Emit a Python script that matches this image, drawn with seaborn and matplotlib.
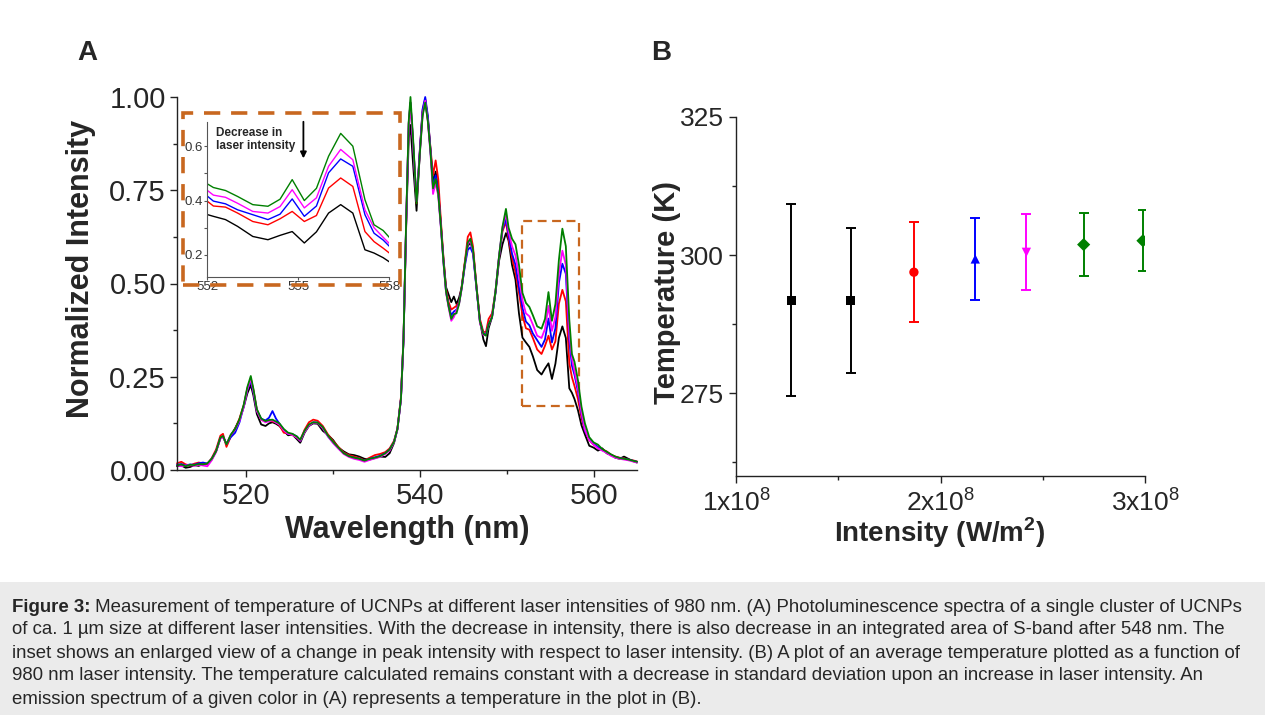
import matplotlib
matplotlib.use('Agg')
import matplotlib.pyplot as plt
from matplotlib.patches import Rectangle
from matplotlib.ticker import MultipleLocator, FixedLocator
import seaborn as sns
import pandas as pd

# ---- panel A: spectra ----
wavelength = [512.0, 512.5, 513.0, 513.5, 514.0, 514.5, 515.0, 515.5, 516.0, 516.5,
              517.0, 517.3, 517.7, 518.2, 518.7, 519.2, 519.7, 520.1, 520.5, 520.8,
              521.2, 521.7, 522.2, 522.6, 523.0, 523.4, 523.8, 524.3, 524.8, 525.3,
              525.8, 526.2, 526.7, 527.2, 527.7, 528.2, 528.8, 529.4, 530.0, 530.6,
              531.2, 531.8, 532.4, 533.0, 533.6, 534.2, 534.8, 535.4, 536.0, 536.5,
              537.0, 537.4, 537.8, 538.1, 538.4, 538.7, 538.9, 539.2, 539.6, 540.0,
              540.3, 540.6, 540.9, 541.2, 541.5, 541.8, 542.1, 542.4, 542.7, 543.0,
              543.3, 543.6, 543.9, 544.2, 544.5, 544.8, 545.2, 545.5, 545.8, 546.1,
              546.5, 546.9, 547.3, 547.6, 547.9, 548.3, 548.7, 549.1, 549.5, 549.9,
              550.2, 550.6, 551.0, 551.4, 551.8, 552.2, 552.6, 553.0, 553.5, 554.0,
              554.4, 554.8, 555.2, 555.6, 556.0, 556.4, 556.8, 557.2, 557.5, 557.8,
              558.2, 558.6, 559.0, 559.5, 560.0, 560.5, 561.0, 561.5, 562.0, 562.5,
              563.0, 563.5, 564.0, 564.5, 565.0]

black = [0.010, 0.012, 0.006, 0.008, 0.013, 0.011, 0.016, 0.017, 0.028, 0.050,
         0.085, 0.090, 0.068, 0.092, 0.112, 0.135, 0.170, 0.205, 0.228, 0.200,
         0.150, 0.122, 0.118, 0.125, 0.128, 0.124, 0.118, 0.105, 0.093, 0.095,
         0.083, 0.073, 0.100, 0.118, 0.125, 0.124, 0.105, 0.094, 0.080, 0.060,
         0.050, 0.042, 0.040, 0.036, 0.030, 0.028, 0.032, 0.036, 0.035, 0.045,
         0.072, 0.110, 0.190, 0.350, 0.650, 0.890, 0.925, 0.820, 0.695, 0.860,
         0.960, 0.990, 0.940, 0.860, 0.770, 0.800, 0.750, 0.660, 0.565, 0.490,
         0.470, 0.450, 0.465, 0.445, 0.462, 0.490, 0.560, 0.600, 0.610, 0.590,
         0.490, 0.400, 0.350, 0.332, 0.380, 0.410, 0.475, 0.560, 0.605, 0.635,
         0.615, 0.550, 0.510, 0.420, 0.355, 0.342, 0.330, 0.305, 0.268, 0.256,
         0.272, 0.286, 0.244, 0.285, 0.354, 0.385, 0.354, 0.219, 0.207, 0.190,
         0.160, 0.120, 0.095, 0.065, 0.060, 0.052, 0.058, 0.045, 0.040, 0.033,
         0.030, 0.036, 0.030, 0.024, 0.020]

red = [0.018, 0.022, 0.015, 0.012, 0.017, 0.020, 0.018, 0.016, 0.032, 0.055,
       0.092, 0.097, 0.062, 0.090, 0.110, 0.138, 0.175, 0.218, 0.245, 0.215,
       0.162, 0.135, 0.130, 0.133, 0.130, 0.128, 0.120, 0.100, 0.098, 0.094,
       0.088, 0.080, 0.108, 0.128, 0.135, 0.132, 0.118, 0.095, 0.077, 0.062,
       0.047, 0.040, 0.036, 0.032, 0.026, 0.033, 0.040, 0.043, 0.048, 0.058,
       0.078, 0.112, 0.195, 0.355, 0.660, 0.930, 0.985, 0.880, 0.715, 0.865,
       0.965, 0.995, 0.945, 0.865, 0.790, 0.830, 0.780, 0.670, 0.570, 0.485,
       0.450, 0.430, 0.435, 0.440, 0.450, 0.492, 0.565, 0.625, 0.637, 0.600,
       0.495, 0.405, 0.370, 0.370, 0.405, 0.420, 0.480, 0.568, 0.640, 0.665,
       0.620, 0.570, 0.530, 0.475, 0.415, 0.380, 0.376, 0.354, 0.323, 0.311,
       0.333, 0.360, 0.323, 0.345, 0.446, 0.483, 0.452, 0.286, 0.249, 0.225,
       0.190, 0.140, 0.105, 0.080, 0.068, 0.060, 0.055, 0.050, 0.041, 0.036,
       0.033, 0.031, 0.028, 0.026, 0.023]

blue = [0.014, 0.016, 0.012, 0.015, 0.014, 0.018, 0.020, 0.017, 0.030, 0.050,
        0.086, 0.090, 0.070, 0.088, 0.100, 0.128, 0.172, 0.215, 0.240, 0.210,
        0.160, 0.137, 0.133, 0.140, 0.158, 0.138, 0.124, 0.108, 0.097, 0.096,
        0.090, 0.079, 0.104, 0.120, 0.128, 0.127, 0.114, 0.090, 0.073, 0.058,
        0.045, 0.037, 0.033, 0.030, 0.025, 0.030, 0.034, 0.038, 0.045, 0.055,
        0.075, 0.110, 0.190, 0.350, 0.660, 0.930, 0.985, 0.880, 0.720, 0.865,
        0.968, 1.000, 0.950, 0.860, 0.760, 0.790, 0.745, 0.655, 0.560, 0.478,
        0.440, 0.415, 0.425, 0.430, 0.448, 0.488, 0.552, 0.590, 0.597, 0.580,
        0.488, 0.398, 0.365, 0.365, 0.390, 0.410, 0.478, 0.570, 0.645, 0.672,
        0.630, 0.580, 0.550, 0.490, 0.435, 0.398, 0.388, 0.366, 0.348, 0.330,
        0.350, 0.406, 0.342, 0.380, 0.502, 0.553, 0.526, 0.348, 0.280, 0.255,
        0.210, 0.150, 0.105, 0.082, 0.070, 0.062, 0.053, 0.048, 0.040, 0.035,
        0.032, 0.030, 0.028, 0.025, 0.022]

magenta = [0.012, 0.010, 0.012, 0.013, 0.011, 0.014, 0.012, 0.010, 0.026, 0.048,
           0.084, 0.088, 0.070, 0.094, 0.108, 0.132, 0.170, 0.215, 0.245, 0.212,
           0.158, 0.135, 0.128, 0.131, 0.133, 0.127, 0.122, 0.106, 0.097, 0.094,
           0.087, 0.078, 0.102, 0.119, 0.127, 0.126, 0.112, 0.090, 0.072, 0.057,
           0.043, 0.035, 0.030, 0.027, 0.022, 0.027, 0.031, 0.035, 0.043, 0.052,
           0.074, 0.108, 0.188, 0.348, 0.655, 0.925, 0.980, 0.875, 0.720, 0.855,
           0.955, 0.990, 0.935, 0.850, 0.740, 0.770, 0.735, 0.650, 0.555, 0.475,
           0.435, 0.400, 0.410, 0.428, 0.445, 0.485, 0.558, 0.605, 0.615, 0.588,
           0.490, 0.395, 0.362, 0.362, 0.388, 0.412, 0.480, 0.572, 0.650, 0.686,
           0.640, 0.600, 0.575, 0.520, 0.455, 0.420, 0.412, 0.390, 0.360, 0.354,
           0.378, 0.440, 0.373, 0.410, 0.526, 0.588, 0.550, 0.366, 0.300, 0.265,
           0.220, 0.155, 0.108, 0.080, 0.068, 0.058, 0.052, 0.046, 0.038, 0.033,
           0.030, 0.028, 0.026, 0.023, 0.020]

green = [0.012, 0.015, 0.010, 0.014, 0.013, 0.016, 0.015, 0.018, 0.030, 0.050,
         0.087, 0.091, 0.069, 0.095, 0.110, 0.136, 0.176, 0.222, 0.252, 0.218,
         0.163, 0.138, 0.131, 0.134, 0.135, 0.130, 0.125, 0.110, 0.100, 0.097,
         0.090, 0.081, 0.105, 0.122, 0.128, 0.127, 0.115, 0.092, 0.075, 0.060,
         0.045, 0.037, 0.033, 0.030, 0.025, 0.030, 0.033, 0.037, 0.045, 0.055,
         0.075, 0.110, 0.190, 0.352, 0.665, 0.935, 1.000, 0.890, 0.715, 0.855,
         0.950, 0.985, 0.935, 0.855, 0.755, 0.780, 0.740, 0.655, 0.558, 0.478,
         0.438, 0.405, 0.418, 0.420, 0.445, 0.488, 0.560, 0.610, 0.620, 0.592,
         0.492, 0.398, 0.365, 0.360, 0.390, 0.410, 0.480, 0.572, 0.652, 0.700,
         0.650, 0.620, 0.605, 0.550, 0.475, 0.448, 0.437, 0.415, 0.385, 0.379,
         0.405, 0.477, 0.400, 0.445, 0.563, 0.647, 0.600, 0.403, 0.311, 0.290,
         0.240, 0.170, 0.125, 0.088, 0.074, 0.068, 0.056, 0.049, 0.042, 0.036,
         0.032, 0.030, 0.028, 0.025, 0.022]

curve_names = ['black', 'red', 'blue', 'magenta', 'green']
curve_colors = {'black': '#000000', 'red': '#ff0000', 'blue': '#0000ff',
                'magenta': '#ff00ff', 'green': '#008000'}

# ---- panel B: temperature vs intensity ----
intensity = [1.27e8, 1.56e8, 1.87e8, 2.17e8, 2.42e8, 2.70e8, 2.99e8]
temperature = [291.8, 291.8, 296.9, 299.3, 300.5, 301.9, 302.6]
temp_err = [17.4, 13.1, 9.1, 7.4, 6.9, 5.7, 5.5]
point_group = ['p1', 'p2', 'p3', 'p4', 'p5', 'p6', 'p7']
point_colors = ['#000000', '#000000', '#ff0000', '#0000ff', '#ff00ff', '#008000', '#008000']
point_markers = ['s', 's', 'o', '^', 'v', 'D', 'D']

caption_lines = [
    ' Measurement of temperature of UCNPs at different laser intensities of 980 nm. (A) Photoluminescence spectra of a single cluster of UCNPs',
    'of ca. 1 \u00b5m size at different laser intensities. With the decrease in intensity, there is also decrease in an integrated area of S-band after 548 nm. The',
    'inset shows an enlarged view of a change in peak intensity with respect to laser intensity. (B) A plot of an average temperature plotted as a function of',
    '980 nm laser intensity. The temperature calculated remains constant with a decrease in standard deviation upon an increase in laser intensity. An',
    'emission spectrum of a given color in (A) represents a temperature in the plot in (B).',
]

sns.set_style('ticks')
plt.rcParams['font.family'] = ['Liberation Sans', 'DejaVu Sans']
plt.rcParams['mathtext.fontset'] = 'custom'
plt.rcParams['mathtext.rm'] = 'Liberation Sans'
plt.rcParams['mathtext.bf'] = 'Liberation Sans:bold'

spec = pd.concat([pd.DataFrame({'wl': wavelength, 'I': vals, 'curve': name})
                  for name, vals in zip(curve_names, [black, red, blue, magenta, green])])

fig = plt.figure(figsize=(12.65, 7.15), dpi=100)
W, H = 1265, 715


def fx(px):
    return px / W


def fy(py):
    return 1 - py / H


def style_axis(ax, size):
    sns.despine(ax=ax)
    for s in ['left', 'bottom']:
        ax.spines[s].set_linewidth(1.0)
        ax.spines[s].set_color('#222222')
    ax.tick_params(which='major', length=5, width=1.0, labelsize=size, color='#222222')
    ax.tick_params(which='minor', length=3, width=1.0, color='#222222')


# ---- panel A ----
axA = fig.add_axes([fx(177), fy(470), fx(637) - fx(177), fy(97) - fy(470)])
sns.lineplot(data=spec, x='wl', y='I', hue='curve', hue_order=curve_names,
             palette=curve_colors, estimator=None, sort=False, legend=False,
             linewidth=1.3, ax=axA)
axA.set_xlim(512, 565)
axA.set_ylim(0, 1.0)
axA.xaxis.set_major_locator(MultipleLocator(20))
axA.xaxis.set_minor_locator(MultipleLocator(10))
axA.yaxis.set_major_locator(MultipleLocator(0.25))
axA.yaxis.set_minor_locator(MultipleLocator(0.125))
axA.yaxis.set_major_formatter(plt.FuncFormatter(lambda v, p: f'{v:.2f}'))
style_axis(axA, 21)
axA.tick_params(axis='y', pad=3)
axA.set_xlabel('Wavelength (nm)', fontsize=22, fontweight='bold')
axA.set_ylabel('Normalized Intensity', fontsize=22, fontweight='bold')
axA.xaxis.label.set_va('center')
axA.xaxis.set_label_coords(0.5, (470 - 530) / 373)
axA.yaxis.label.set_va('center')
axA.yaxis.set_label_coords((81 - 177) / 460, (470 - 269) / 373)
for ln in axA.lines:
    ln.set_clip_on(False)

axA.add_patch(Rectangle((551.8, 0.172), 6.5, 0.495, fill=False, edgecolor='#c8671f',
                        linewidth=1.6, linestyle=(0, (4, 2.5))))

# inset
axI = fig.add_axes([fx(207.3), fy(276.7), fx(389.2) - fx(207.3), fy(121.7) - fy(276.7)])
sns.lineplot(data=spec[(spec.wl >= 551.4) & (spec.wl <= 558.6)], x='wl', y='I',
             hue='curve', hue_order=curve_names, palette=curve_colors,
             estimator=None, sort=False, legend=False, linewidth=1.0, ax=axI)
axI.set_xlim(552, 558)
axI.set_ylim(0.12, 0.69)
axI.xaxis.set_major_locator(FixedLocator([552, 555, 558]))
axI.yaxis.set_major_locator(FixedLocator([0.2, 0.4, 0.6]))
axI.yaxis.set_minor_locator(FixedLocator([0.3, 0.5]))
sns.despine(ax=axI)
for s in ['left', 'bottom']:
    axI.spines[s].set_linewidth(0.8)
    axI.spines[s].set_color('#555555')
axI.tick_params(which='both', length=2, width=0.8, pad=1, labelsize=9.5,
                labelcolor='#333333', color='#555555')
axI.set_xlabel('')
axI.set_ylabel('')
axI.set_facecolor('none')
axI.text(552.3, 0.672, 'Decrease in\nlaser intensity', fontsize=8.5, fontweight='bold',
         va='top', ha='left', linespacing=1.15)
axI.annotate('', xy=(555.17, 0.545), xytext=(555.17, 0.70),
             arrowprops=dict(arrowstyle='-|>', color='black', lw=1.3, mutation_scale=9),
             annotation_clip=False)

fig.patches.append(Rectangle((fx(183), fy(285)), fx(400) - fx(183), fy(112.7) - fy(285),
                             transform=fig.transFigure, fill=False, edgecolor='#c8671f',
                             linewidth=2.6, linestyle=(0, (4.5, 3))))

# ---- panel B ----
axB = fig.add_axes([fx(736), fy(476), fx(1145) - fx(736), fy(117) - fy(476)])
ptdf = pd.DataFrame({'x': intensity, 'y': temperature, 'g': point_group})
for x, y, e, c in zip(intensity, temperature, temp_err, point_colors):
    axB.errorbar(x, y, yerr=e, fmt='none', ecolor=c, elinewidth=1.4,
                 capsize=3.5, capthick=1.4)
sns.scatterplot(data=ptdf, x='x', y='y', hue='g', style='g',
                palette=dict(zip(point_group, point_colors)),
                markers=dict(zip(point_group, point_markers)),
                s=45, linewidth=0, legend=False, ax=axB, zorder=3)
axB.set_xlim(1e8, 3e8)
axB.set_ylim(260, 325)
axB.xaxis.set_major_locator(FixedLocator([1e8, 2e8, 3e8]))
axB.xaxis.set_minor_locator(FixedLocator([1.5e8, 2.5e8]))
axB.set_xticklabels([r'1x10$^{8}$', r'2x10$^{8}$', r'3x10$^{8}$'])
axB.yaxis.set_major_locator(FixedLocator([275, 300, 325]))
axB.yaxis.set_minor_locator(FixedLocator([262.5, 287.5, 312.5]))
style_axis(axB, 19)
axB.set_xlabel(r'Intensity (W/m$^{\mathbf{2}}$)', fontsize=20, fontweight='bold')
axB.set_ylabel('Temperature (K)', fontsize=21, fontweight='bold')
axB.xaxis.label.set_va('center')
axB.xaxis.set_label_coords((940 - 736) / 409, (476 - 533) / 359)
axB.yaxis.label.set_va('center')
axB.yaxis.set_label_coords((667 - 736) / 409, (476 - 292) / 359)

fig.text(fx(87), fy(53), 'A', fontsize=20, fontweight='bold', ha='center', va='center')
fig.text(fx(661), fy(53), 'B', fontsize=20, fontweight='bold', ha='center', va='center')

# ---- caption ----
fig.patches.append(Rectangle((0, 0), 1, fy(582), transform=fig.transFigure,
                             facecolor='#ebebeb', edgecolor='none', zorder=-1))
renderer = fig.canvas.get_renderer()
line_y = [607, 630, 653, 676, 699]
cap_size = 13.4
head = fig.text(fx(12), fy(line_y[0]), 'Figure 3:', fontsize=cap_size, fontweight='bold',
                va='center', ha='left')
bb = head.get_window_extent(renderer=renderer)
fig.text(bb.x1 / fig.bbox.width, fy(line_y[0]), caption_lines[0], fontsize=cap_size,
         va='center', ha='left')
for yy, txt in zip(line_y[1:], caption_lines[1:]):
    fig.text(fx(12), fy(yy), txt, fontsize=cap_size, va='center', ha='left')

fig.savefig('out.png', dpi=100)
